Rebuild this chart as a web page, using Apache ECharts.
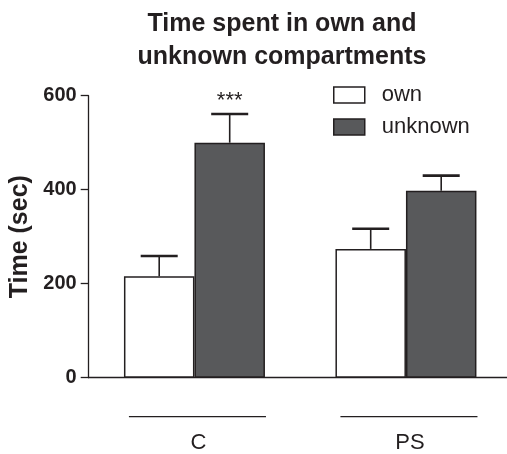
<!DOCTYPE html>
<html>
<head>
<meta charset="utf-8">
<script src="https://cdn.jsdelivr.net/npm/echarts@6/dist/echarts.min.js"></script>
<style>html,body{margin:0;padding:0;background:#fff}#c{width:507px;height:454px}</style>
</head>
<body>
<div id="c"></div>
<script>
var categories = ['C', 'PS'];
var ownMean = [216, 274];
var ownSem = [43, 43];
var unknownMean = [500, 398];
var unknownSem = [61, 32];
var sigUnknown = ['***', ''];
var yTicks = [0, 200, 400, 600];

var INK = '#231f20';
var FONT = '"Liberation Sans", Arial, Helvetica, sans-serif';

function errItem(side, marks) {
  return function (params, api) {
    var i = api.value(0), m = api.value(1), s = api.value(2);
    var band = api.size([1, 0])[0];
    var bw = band / 3;
    var base = api.coord([i, m]);
    var top = api.coord([i, m + s]);
    var x = base[0] + side * bw / 2;
    var cap = bw * 0.525;
    var children = [
      { type: 'line', shape: { x1: x, y1: base[1], x2: x, y2: top[1] }, style: { stroke: INK, lineWidth: 1.6 } },
      { type: 'line', shape: { x1: x - cap / 2, y1: top[1], x2: x + cap / 2, y2: top[1] }, style: { stroke: INK, lineWidth: 2.6 } }
    ];
    if (marks && marks[i]) {
      children.push({ type: 'text', style: { text: marks[i], x: x, y: top[1] - 2, align: 'center', verticalAlign: 'bottom', font: '22px ' + FONT, fill: INK } });
    }
    return { type: 'group', children: children };
  };
}

function groupLine(params, api) {
  var i = api.value(0);
  var band = api.size([1, 0])[0];
  var p = api.coord([i, 0]);
  var half = band * 0.324;
  var cx = p[0] + 3;
  return { type: 'line', shape: { x1: cx - half, y1: p[1] + 39, x2: cx + half, y2: p[1] + 39 }, style: { stroke: INK, lineWidth: 1.3 } };
}

var chart = echarts.init(document.getElementById('c'), null, { renderer: 'canvas' });
chart.setOption({
  animation: false,
  backgroundColor: '#fff',
  textStyle: { fontFamily: FONT },
  title: {
    text: 'Time spent in own and\nunknown compartments',
    left: 277, top: 3, textAlign: 'center',
    textStyle: { fontSize: 25, fontWeight: 'bold', color: INK, lineHeight: 33, fontFamily: FONT }
  },
  legend: {
    orient: 'vertical', left: 333, top: 84, padding: 0,
    itemWidth: 31, itemHeight: 16, itemGap: 10,
    textStyle: { fontSize: 22, color: INK, padding: [0, 0, 0, 12], fontFamily: FONT },
    data: [
      { name: 'own', icon: 'rect', itemStyle: { color: '#ffffff', borderColor: INK, borderWidth: 1.5 } },
      { name: 'unknown', icon: 'rect', itemStyle: { color: '#58595b', borderColor: INK, borderWidth: 1.5 } }
    ]
  },
  grid: { left: 88.7, width: 423, top: 95.7, bottom: 76.3, containLabel: false, outerBoundsMode: 'none' },
  xAxis: {
    type: 'category', data: categories,
    axisLine: { lineStyle: { color: INK, width: 1.3 } },
    axisTick: { show: false },
    axisLabel: { fontSize: 22, color: INK, margin: 54, padding: [0, 0, 0, 8], fontFamily: FONT }
  },
  yAxis: {
    type: 'value', min: yTicks[0], max: yTicks[yTicks.length - 1], interval: 200,
    name: 'Time (sec)', nameLocation: 'middle', nameGap: 53,
    nameTextStyle: { fontSize: 25, fontWeight: 'bold', color: INK, fontFamily: FONT },
    axisLine: { show: true, lineStyle: { color: INK, width: 1.3 } },
    axisTick: { show: true, length: 8, lineStyle: { color: INK, width: 1.3 } },
    axisLabel: { fontSize: 20, fontWeight: 'bold', color: INK, margin: 12, fontFamily: FONT },
    splitLine: { show: false }
  },
  series: [
    { name: 'own', type: 'bar', data: ownMean, barWidth: '33.333%', barGap: '0%',
      itemStyle: { color: '#ffffff', borderColor: INK, borderWidth: 1.5 } },
    { name: 'unknown', type: 'bar', data: unknownMean, barWidth: '33.333%', barGap: '0%',
      itemStyle: { color: '#58595b', borderColor: INK, borderWidth: 1.5 } },
    { type: 'custom', renderItem: errItem(-1, null), z: 5,
      data: ownMean.map(function (m, i) { return [i, m, ownSem[i]]; }) },
    { type: 'custom', renderItem: errItem(1, sigUnknown), z: 5,
      data: unknownMean.map(function (m, i) { return [i, m, unknownSem[i]]; }) },
    { type: 'custom', renderItem: groupLine, silent: true,
      data: categories.map(function (c, i) { return [i, 0]; }) }
  ]
});
</script>
</body>
</html>
